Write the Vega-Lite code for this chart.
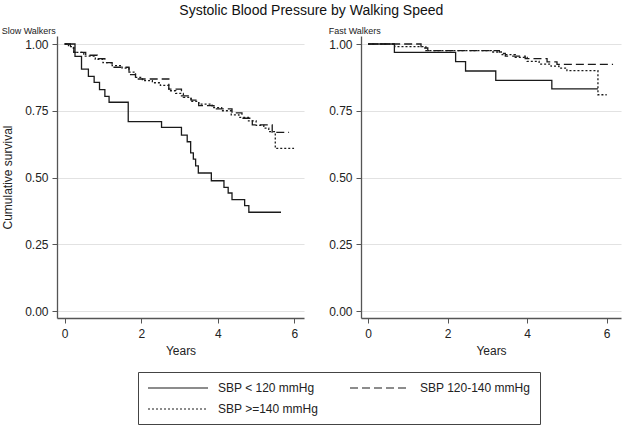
{
  "$schema": "https://vega.github.io/schema/vega-lite/v6.json",
  "background": "white",
  "padding": {"left": 1, "top": 4, "right": 2, "bottom": 2},
  "title": {"text": "Systolic Blood Pressure by Walking Speed", "fontSize": 14, "fontWeight": "normal", "font": "Liberation Sans", "color": "#111", "anchor": "middle", "offset": 9},
  "data": {"values": [
    {"panel": "Slow", "group": "SBP < 120 mmHg", "t": 0, "s": 1.0},
    {"panel": "Slow", "group": "SBP < 120 mmHg", "t": 0.27, "s": 0.954},
    {"panel": "Slow", "group": "SBP < 120 mmHg", "t": 0.44, "s": 0.906},
    {"panel": "Slow", "group": "SBP < 120 mmHg", "t": 0.62, "s": 0.879},
    {"panel": "Slow", "group": "SBP < 120 mmHg", "t": 0.77, "s": 0.856},
    {"panel": "Slow", "group": "SBP < 120 mmHg", "t": 0.91, "s": 0.829},
    {"panel": "Slow", "group": "SBP < 120 mmHg", "t": 1.05, "s": 0.804},
    {"panel": "Slow", "group": "SBP < 120 mmHg", "t": 1.16, "s": 0.782},
    {"panel": "Slow", "group": "SBP < 120 mmHg", "t": 1.66, "s": 0.709},
    {"panel": "Slow", "group": "SBP < 120 mmHg", "t": 2.53, "s": 0.688},
    {"panel": "Slow", "group": "SBP < 120 mmHg", "t": 3.05, "s": 0.659},
    {"panel": "Slow", "group": "SBP < 120 mmHg", "t": 3.2, "s": 0.634},
    {"panel": "Slow", "group": "SBP < 120 mmHg", "t": 3.29, "s": 0.592},
    {"panel": "Slow", "group": "SBP < 120 mmHg", "t": 3.36, "s": 0.569},
    {"panel": "Slow", "group": "SBP < 120 mmHg", "t": 3.42, "s": 0.544},
    {"panel": "Slow", "group": "SBP < 120 mmHg", "t": 3.49, "s": 0.517},
    {"panel": "Slow", "group": "SBP < 120 mmHg", "t": 3.83, "s": 0.488},
    {"panel": "Slow", "group": "SBP < 120 mmHg", "t": 4.16, "s": 0.463},
    {"panel": "Slow", "group": "SBP < 120 mmHg", "t": 4.27, "s": 0.442},
    {"panel": "Slow", "group": "SBP < 120 mmHg", "t": 4.37, "s": 0.417},
    {"panel": "Slow", "group": "SBP < 120 mmHg", "t": 4.7, "s": 0.395},
    {"panel": "Slow", "group": "SBP < 120 mmHg", "t": 4.81, "s": 0.37},
    {"panel": "Slow", "group": "SBP < 120 mmHg", "t": 5.65, "s": 0.37},
    {"panel": "Slow", "group": "SBP 120-140 mmHg", "t": 0, "s": 1.0},
    {"panel": "Slow", "group": "SBP 120-140 mmHg", "t": 0.15, "s": 0.985},
    {"panel": "Slow", "group": "SBP 120-140 mmHg", "t": 0.24, "s": 0.969},
    {"panel": "Slow", "group": "SBP 120-140 mmHg", "t": 0.55, "s": 0.958},
    {"panel": "Slow", "group": "SBP 120-140 mmHg", "t": 0.85, "s": 0.945},
    {"panel": "Slow", "group": "SBP 120-140 mmHg", "t": 1.05, "s": 0.93},
    {"panel": "Slow", "group": "SBP 120-140 mmHg", "t": 1.24, "s": 0.913},
    {"panel": "Slow", "group": "SBP 120-140 mmHg", "t": 1.68, "s": 0.885},
    {"panel": "Slow", "group": "SBP 120-140 mmHg", "t": 1.85, "s": 0.869},
    {"panel": "Slow", "group": "SBP 120-140 mmHg", "t": 2.72, "s": 0.831},
    {"panel": "Slow", "group": "SBP 120-140 mmHg", "t": 3.05, "s": 0.806},
    {"panel": "Slow", "group": "SBP 120-140 mmHg", "t": 3.3, "s": 0.79},
    {"panel": "Slow", "group": "SBP 120-140 mmHg", "t": 3.5, "s": 0.769},
    {"panel": "Slow", "group": "SBP 120-140 mmHg", "t": 3.9, "s": 0.757},
    {"panel": "Slow", "group": "SBP 120-140 mmHg", "t": 4.37, "s": 0.742},
    {"panel": "Slow", "group": "SBP 120-140 mmHg", "t": 4.63, "s": 0.722},
    {"panel": "Slow", "group": "SBP 120-140 mmHg", "t": 4.9, "s": 0.697},
    {"panel": "Slow", "group": "SBP 120-140 mmHg", "t": 5.42, "s": 0.669},
    {"panel": "Slow", "group": "SBP 120-140 mmHg", "t": 5.86, "s": 0.669},
    {"panel": "Slow", "group": "SBP >=140 mmHg", "t": 0, "s": 1.0},
    {"panel": "Slow", "group": "SBP >=140 mmHg", "t": 0.1, "s": 0.99},
    {"panel": "Slow", "group": "SBP >=140 mmHg", "t": 0.24, "s": 0.969},
    {"panel": "Slow", "group": "SBP >=140 mmHg", "t": 0.5, "s": 0.955},
    {"panel": "Slow", "group": "SBP >=140 mmHg", "t": 0.8, "s": 0.943},
    {"panel": "Slow", "group": "SBP >=140 mmHg", "t": 1.0, "s": 0.93},
    {"panel": "Slow", "group": "SBP >=140 mmHg", "t": 1.24, "s": 0.919},
    {"panel": "Slow", "group": "SBP >=140 mmHg", "t": 1.5, "s": 0.91},
    {"panel": "Slow", "group": "SBP >=140 mmHg", "t": 1.68, "s": 0.895},
    {"panel": "Slow", "group": "SBP >=140 mmHg", "t": 1.85, "s": 0.875},
    {"panel": "Slow", "group": "SBP >=140 mmHg", "t": 2.03, "s": 0.863},
    {"panel": "Slow", "group": "SBP >=140 mmHg", "t": 2.29, "s": 0.855},
    {"panel": "Slow", "group": "SBP >=140 mmHg", "t": 2.5, "s": 0.845},
    {"panel": "Slow", "group": "SBP >=140 mmHg", "t": 2.72, "s": 0.825},
    {"panel": "Slow", "group": "SBP >=140 mmHg", "t": 2.9, "s": 0.815},
    {"panel": "Slow", "group": "SBP >=140 mmHg", "t": 3.1, "s": 0.8},
    {"panel": "Slow", "group": "SBP >=140 mmHg", "t": 3.3, "s": 0.785},
    {"panel": "Slow", "group": "SBP >=140 mmHg", "t": 3.5, "s": 0.775},
    {"panel": "Slow", "group": "SBP >=140 mmHg", "t": 3.85, "s": 0.762},
    {"panel": "Slow", "group": "SBP >=140 mmHg", "t": 4.1, "s": 0.75},
    {"panel": "Slow", "group": "SBP >=140 mmHg", "t": 4.35, "s": 0.735},
    {"panel": "Slow", "group": "SBP >=140 mmHg", "t": 4.55, "s": 0.725},
    {"panel": "Slow", "group": "SBP >=140 mmHg", "t": 4.8, "s": 0.712},
    {"panel": "Slow", "group": "SBP >=140 mmHg", "t": 5.0, "s": 0.695},
    {"panel": "Slow", "group": "SBP >=140 mmHg", "t": 5.2, "s": 0.685},
    {"panel": "Slow", "group": "SBP >=140 mmHg", "t": 5.33, "s": 0.672},
    {"panel": "Slow", "group": "SBP >=140 mmHg", "t": 5.5, "s": 0.609},
    {"panel": "Slow", "group": "SBP >=140 mmHg", "t": 5.99, "s": 0.609},
    {"panel": "Fast", "group": "SBP < 120 mmHg", "t": 0, "s": 1.0},
    {"panel": "Fast", "group": "SBP < 120 mmHg", "t": 0.66, "s": 0.969},
    {"panel": "Fast", "group": "SBP < 120 mmHg", "t": 2.2, "s": 0.934},
    {"panel": "Fast", "group": "SBP < 120 mmHg", "t": 2.45, "s": 0.899},
    {"panel": "Fast", "group": "SBP < 120 mmHg", "t": 3.21, "s": 0.864},
    {"panel": "Fast", "group": "SBP < 120 mmHg", "t": 4.62, "s": 0.832},
    {"panel": "Fast", "group": "SBP < 120 mmHg", "t": 5.78, "s": 0.832},
    {"panel": "Fast", "group": "SBP 120-140 mmHg", "t": 0, "s": 1.0},
    {"panel": "Fast", "group": "SBP 120-140 mmHg", "t": 1.33, "s": 0.985},
    {"panel": "Fast", "group": "SBP 120-140 mmHg", "t": 1.5, "s": 0.975},
    {"panel": "Fast", "group": "SBP 120-140 mmHg", "t": 3.3, "s": 0.965},
    {"panel": "Fast", "group": "SBP 120-140 mmHg", "t": 3.45, "s": 0.955},
    {"panel": "Fast", "group": "SBP 120-140 mmHg", "t": 3.95, "s": 0.945},
    {"panel": "Fast", "group": "SBP 120-140 mmHg", "t": 4.5, "s": 0.933},
    {"panel": "Fast", "group": "SBP 120-140 mmHg", "t": 4.75, "s": 0.924},
    {"panel": "Fast", "group": "SBP 120-140 mmHg", "t": 6.16, "s": 0.924},
    {"panel": "Fast", "group": "SBP >=140 mmHg", "t": 0, "s": 1.0},
    {"panel": "Fast", "group": "SBP >=140 mmHg", "t": 0.67, "s": 0.99},
    {"panel": "Fast", "group": "SBP >=140 mmHg", "t": 1.45, "s": 0.975},
    {"panel": "Fast", "group": "SBP >=140 mmHg", "t": 3.1, "s": 0.97},
    {"panel": "Fast", "group": "SBP >=140 mmHg", "t": 3.35, "s": 0.96},
    {"panel": "Fast", "group": "SBP >=140 mmHg", "t": 3.7, "s": 0.95},
    {"panel": "Fast", "group": "SBP >=140 mmHg", "t": 4.0, "s": 0.935},
    {"panel": "Fast", "group": "SBP >=140 mmHg", "t": 4.3, "s": 0.925},
    {"panel": "Fast", "group": "SBP >=140 mmHg", "t": 4.6, "s": 0.917},
    {"panel": "Fast", "group": "SBP >=140 mmHg", "t": 4.8, "s": 0.91},
    {"panel": "Fast", "group": "SBP >=140 mmHg", "t": 5.0, "s": 0.9},
    {"panel": "Fast", "group": "SBP >=140 mmHg", "t": 5.78, "s": 0.81},
    {"panel": "Fast", "group": "SBP >=140 mmHg", "t": 6.0, "s": 0.81}
  ]},
  "spacing": 24,
  "hconcat": [
    {
      "transform": [{"filter": "datum.panel === 'Slow'"}],
      "title": {"text": "Slow Walkers", "anchor": "start", "fontSize": 9, "fontWeight": "normal", "font": "Liberation Sans", "color": "#222", "offset": 0},
      "width": 247,
      "height": 282,
      "mark": {"type": "line", "interpolate": "step-after", "stroke": "#1a1a1a", "strokeWidth": 1.3},
      "encoding": {
        "x": {"field": "t", "type": "quantitative", "scale": {"domain": [-0.2, 6.25], "nice": false, "zero": false}, "axis": {"values": [0, 2, 4, 6], "title": "Years", "grid": false}},
        "y": {"field": "s", "type": "quantitative", "scale": {"domain": [-0.026, 1.03], "nice": false, "zero": false}, "axis": {"values": [0, 0.25, 0.5, 0.75, 1], "format": ".2f", "title": "Cumulative survival"}},
        "strokeDash": {"field": "group", "type": "nominal", "scale": {"domain": ["SBP < 120 mmHg", "SBP 120-140 mmHg", "SBP >=140 mmHg"], "range": [[1, 0], [8, 4], [2, 2]]}, "legend": {"title": null}}
      }
    },
    {
      "transform": [{"filter": "datum.panel === 'Fast'"}],
      "title": {"text": "Fast Walkers", "anchor": "start", "fontSize": 9, "fontWeight": "normal", "font": "Liberation Sans", "color": "#222", "offset": 0},
      "width": 260,
      "height": 282,
      "mark": {"type": "line", "interpolate": "step-after", "stroke": "#1a1a1a", "strokeWidth": 1.3},
      "encoding": {
        "x": {"field": "t", "type": "quantitative", "scale": {"domain": [-0.18, 6.36], "nice": false, "zero": false}, "axis": {"values": [0, 2, 4, 6], "title": "Years", "grid": false}},
        "y": {"field": "s", "type": "quantitative", "scale": {"domain": [-0.026, 1.03], "nice": false, "zero": false}, "axis": {"values": [0, 0.25, 0.5, 0.75, 1], "format": ".2f", "title": null}},
        "strokeDash": {"field": "group", "type": "nominal", "scale": {"domain": ["SBP < 120 mmHg", "SBP 120-140 mmHg", "SBP >=140 mmHg"], "range": [[1, 0], [8, 4], [2, 2]]}, "legend": {"title": null}}
      }
    }
  ],
  "config": {
    "view": {"stroke": null},
    "font": "Liberation Sans",
    "axis": {
      "domainColor": "#555", "domainWidth": 1.3, "tickColor": "#555", "tickSize": 5,
      "gridColor": "#e2e2e2", "gridWidth": 1.2,
      "labelFont": "Liberation Sans", "labelFontSize": 12, "labelColor": "#222", "labelPadding": 5,
      "titleFont": "Liberation Sans", "titleFontSize": 12, "titleFontWeight": "normal", "titleColor": "#222", "titlePadding": 6
    },
    "axisY": {"labelPadding": 4, "titlePadding": 10},
    "legend": {
      "orient": "none", "legendX": 81, "legendY": 336,
      "direction": "horizontal", "columns": 2, "gridAlign": "all",
      "strokeColor": "#444", "padding": 9, "columnPadding": 18, "rowPadding": 8,
      "symbolType": "M-1,0H9", "symbolSize": 144, "symbolStrokeWidth": 1.2, "symbolStrokeColor": "#1a1a1a", "symbolFillColor": "transparent",
      "labelFont": "Liberation Sans", "labelFontSize": 12, "labelColor": "#222", "labelOffset": 57, "labelLimit": 300
    }
  }
}
